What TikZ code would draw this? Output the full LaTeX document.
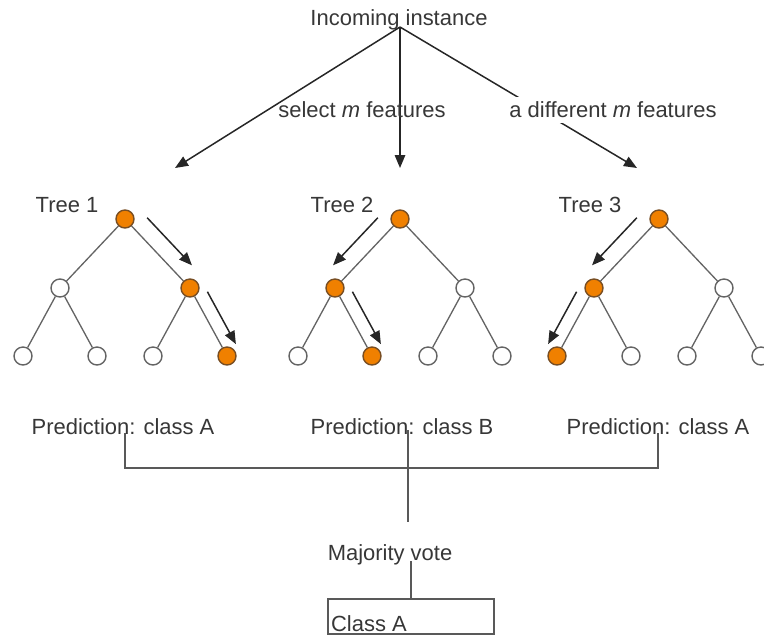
\documentclass[tikz,border=0pt]{standalone}
\usepackage{fontspec}
\setmainfont{Liberation Sans}
\usetikzlibrary{arrows.meta,calc}

\definecolor{hitorange}{RGB}{240,128,0}
\definecolor{hitedge}{RGB}{120,78,35}
\definecolor{edgegray}{RGB}{100,100,100}
\definecolor{txtgray}{RGB}{55,55,55}

\tikzset{
  leaf/.style={circle, draw=edgegray, fill=white, line width=0.8pt, minimum size=0.36cm, inner sep=0pt},
  hit/.style={leaf, draw=hitedge, fill=hitorange},
  branch/.style={draw=edgegray, line width=0.75pt},
  walk/.style={-{Triangle[length=2.6mm,width=2.1mm]}, line width=0.85pt, black!85},
  bar/.style={draw=black!65, line width=0.9pt},
  lbl/.style={text=txtgray, font=\fontsize{12.5}{15}\selectfont, inner sep=1pt},
}

\begin{document}
\begin{tikzpicture}[x=0.02cm, y=-0.02cm]
\useasboundingbox (0,0) rectangle (764,637);

% incoming instance, split into feature subsets
\node[lbl] (inst) at (399,20) {Incoming instance};
\coordinate (src) at (400,27);
\coordinate (e1) at (175,168);
\coordinate (e2) at (400,168);
\coordinate (e3) at (637,168);
\draw[walk] (src) -- (e1);
\draw[walk] (src) -- (e2);
\draw[walk] (src) -- (e3);
\node[lbl] (sel) at (362,110) {select \textit{m} features};
\node[lbl, fill=white, inner sep=3pt] (diff) at (613,110) {a different \textit{m} features};

% the three trees
\foreach \t/\rx/\sr/\sa/\sb/\saa/\sab/\sba/\sbb in
  {1/125/hit/leaf/hit/leaf/leaf/leaf/hit,
   2/400/hit/hit/leaf/leaf/hit/leaf/leaf,
   3/659/hit/hit/leaf/hit/leaf/leaf/leaf} {
  \node[\sr] (r\t) at (\rx,219) {};
  \node[\sa] (a\t) at (\rx-65,288) {};
  \node[\sb] (b\t) at (\rx+65,288) {};
  \node[\saa] (aa\t) at (\rx-102,356) {};
  \node[\sab] (ab\t) at (\rx-28,356) {};
  \node[\sba] (ba\t) at (\rx+28,356) {};
  \node[\sbb] (bb\t) at (\rx+102,356) {};
  \draw[branch] (r\t) -- (a\t);
  \draw[branch] (r\t) -- (b\t);
  \draw[branch] (a\t) -- (aa\t);
  \draw[branch] (a\t) -- (ab\t);
  \draw[branch] (b\t) -- (ba\t);
  \draw[branch] (b\t) -- (bb\t);
}
\node[lbl] (tr1) at (67,205) {Tree 1};
\node[lbl] (tr2) at (342,205) {Tree 2};
\node[lbl] (tr3) at (590,205) {Tree 3};

% paths taken
\draw[walk] ($(r1)!0.15!(b1)!0.34cm!90:(b1)$) -- ($(r1)!0.84!(b1)!0.34cm!90:(b1)$);
\draw[walk] ($(b1)!0.15!(bb1)!0.27cm!90:(bb1)$) -- ($(b1)!0.92!(bb1)!0.27cm!90:(bb1)$);
\draw[walk] ($(r2)!0.15!(a2)!0.34cm!-90:(a2)$) -- ($(r2)!0.84!(a2)!0.34cm!-90:(a2)$);
\draw[walk] ($(a2)!0.15!(ab2)!0.27cm!90:(ab2)$) -- ($(a2)!0.92!(ab2)!0.27cm!90:(ab2)$);
\draw[walk] ($(r3)!0.15!(a3)!0.34cm!-90:(a3)$) -- ($(r3)!0.84!(a3)!0.34cm!-90:(a3)$);
\draw[walk] ($(a3)!0.15!(aa3)!0.27cm!-90:(aa3)$) -- ($(a3)!0.92!(aa3)!0.27cm!-90:(aa3)$);

% predictions and vote
\node[lbl] (p1) at (123,427) {Prediction: class A};
\node[lbl] (p2) at (402,427) {Prediction: class B};
\node[lbl] (p3) at (658,427) {Prediction: class A};
\coordinate (c1) at (125,433);
\coordinate (c2) at (408,430);
\coordinate (c3) at (658,433);
\coordinate (join) at (408,522);
\draw[bar] (c1) -- ++(0,35) -| (c3);
\draw[bar] (c2) -- (join);

\node[lbl] (mv) at (390,555) {Majority vote};
\node[draw=black!65, line width=0.9pt, minimum width=3.32cm, minimum height=0.7cm,
      inner sep=0pt, anchor=north west] (res) at (327,598) {};
\node[lbl, anchor=base west] (cls) at (329,631) {Class A};
\draw[bar] (res.north) -- (res.north |- mv.base);
\end{tikzpicture}
\end{document}
